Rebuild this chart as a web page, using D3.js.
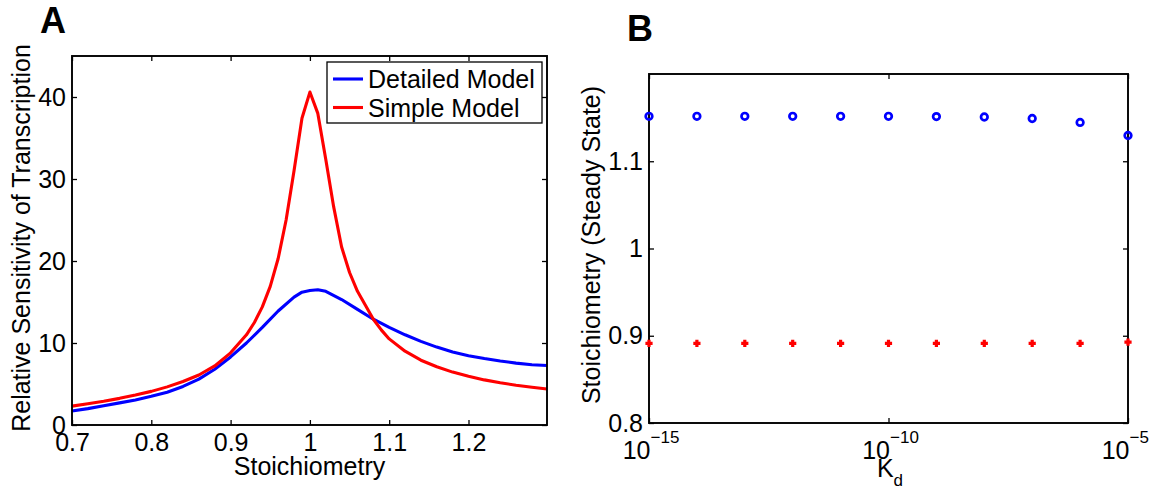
<!DOCTYPE html>
<html>
<head>
<meta charset="utf-8">
<script src="https://cdn.jsdelivr.net/npm/d3@7"></script>
<style>
  body { margin: 0; background: #fff; }
  svg { font-family: "Liberation Sans", Arial, Helvetica, sans-serif; }
</style>
</head>
<body>
<script>
// Panel A data
const simpleX = [0.70, 0.72, 0.74, 0.76, 0.78, 0.80, 0.82, 0.84, 0.86, 0.88, 0.90, 0.92, 0.93, 0.94, 0.95, 0.96, 0.97, 0.98, 0.99, 1.00,
                 1.01, 1.02, 1.03, 1.04, 1.05, 1.06, 1.07, 1.08, 1.09, 1.10, 1.12, 1.14, 1.16, 1.18, 1.20, 1.22, 1.24, 1.26, 1.28, 1.299];
const simpleY = [2.3, 2.6, 2.9, 3.25, 3.65, 4.1, 4.65, 5.3, 6.1, 7.2, 8.8, 11.0, 12.5, 14.4, 16.9, 20.3, 25.0, 31.0, 37.4, 40.6,
                 38.0, 32.4, 26.6, 21.7, 18.6, 16.3, 14.6, 12.9, 11.6, 10.5, 9.0, 7.9, 7.1, 6.45, 5.95, 5.5, 5.15, 4.85, 4.6, 4.4];
const detailedX = [0.70, 0.72, 0.74, 0.76, 0.78, 0.80, 0.82, 0.84, 0.86, 0.88, 0.90, 0.92, 0.94, 0.96, 0.98, 0.99, 1.00, 1.01, 1.02,
                   1.04, 1.06, 1.08, 1.10, 1.12, 1.14, 1.16, 1.18, 1.20, 1.22, 1.24, 1.26, 1.28, 1.299];
const detailedY = [1.7, 2.0, 2.35, 2.7, 3.05, 3.5, 4.0, 4.7, 5.6, 6.8, 8.3, 10.0, 11.9, 13.9, 15.6, 16.2, 16.4, 16.5, 16.3,
                   15.3, 14.1, 12.9, 11.9, 11.0, 10.2, 9.5, 8.9, 8.45, 8.1, 7.8, 7.55, 7.35, 7.25];
const legendNames = ["Detailed Model", "Simple Model"];
const lineColors = ["#0000ff", "#ff0000"];
const xTicksA = [0.7, 0.8, 0.9, 1, 1.1, 1.2];
const yTicksA = [0, 10, 20, 30, 40];

// Panel B data
const kdValues = [1e-15, 1e-14, 1e-13, 1e-12, 1e-11, 1e-10, 1e-9, 1e-8, 1e-7, 1e-6, 1e-5];
const stoichDetailed = [1.1515, 1.1515, 1.1515, 1.1515, 1.1515, 1.1515, 1.1512, 1.1507, 1.149, 1.1445, 1.1295];
const stoichSimple = [0.8912, 0.8912, 0.8912, 0.8912, 0.8912, 0.8912, 0.8912, 0.8912, 0.8912, 0.8912, 0.8927];
const xTicksB = [1e-15, 1e-10, 1e-5];
const yTicksB = [0.8, 0.9, 1, 1.1];

const W = 1157, H = 493;
const svg = d3.select("body").append("svg").attr("width", W).attr("height", H);

const tickLen = 5;
const fontSize = 25;

function frame(g, x, y, w, h) {
  // mirrored inward ticks on top and right, like MATLAB's box on
  g.append("g").attr("transform", `translate(0,${h})`)
    .call(d3.axisBottom(x).tickValues(x.tv).tickSizeInner(-tickLen).tickSizeOuter(0).tickPadding(8).tickFormat(x.fmt))
    .attr("class", "xaxis");
  g.append("g")
    .call(d3.axisTop(x).tickValues(x.tv).tickSizeInner(-tickLen).tickSizeOuter(0).tickFormat(""));
  g.append("g")
    .call(d3.axisLeft(y).tickValues(y.tv).tickSizeInner(-tickLen).tickSizeOuter(0).tickPadding(6).tickFormat(y.fmt))
    .attr("class", "yaxis");
  g.append("g").attr("transform", `translate(${w},0)`)
    .call(d3.axisRight(y).tickValues(y.tv).tickSizeInner(-tickLen).tickSizeOuter(0).tickFormat(""));
  g.selectAll(".domain").remove();
  g.selectAll(".tick line").attr("stroke", "#000").attr("stroke-width", 1.3);
  g.selectAll(".tick text").attr("font-size", fontSize).attr("fill", "#000").attr("font-family", null);
  g.append("rect").attr("width", w).attr("height", h)
    .attr("fill", "none").attr("stroke", "#000").attr("stroke-width", 1.9);
}

// ---------- Panel A ----------
const A = { left: 72, top: 56, right: 547, bottom: 425 };
const xA = d3.scaleLinear().domain([0.7, 1.299]).range([0, A.right - A.left]);
const yA = d3.scaleLinear().domain([0, 45]).range([A.bottom - A.top, 0]);
xA.tv = xTicksA; xA.fmt = d => String(d);
yA.tv = yTicksA; yA.fmt = d => String(d);

const gA = svg.append("g").attr("transform", `translate(${A.left},${A.top})`);

const lineA = d3.line().x(d => xA(d[0])).y(d => yA(d[1]));
const seriesA = [
  d3.zip(detailedX, detailedY),
  d3.zip(simpleX, simpleY)
];
gA.selectAll("path.curve").data(seriesA).enter().append("path").attr("class", "curve")
  .attr("d", lineA)
  .attr("fill", "none")
  .attr("stroke", (d, i) => lineColors[i])
  .attr("stroke-width", 3.1)
  .attr("stroke-linejoin", "round");

frame(gA, xA, yA, A.right - A.left, A.bottom - A.top);

// legend
const leg = gA.append("g").attr("transform", `translate(${327 - A.left},${62 - A.top})`);
leg.append("rect").attr("width", 215).attr("height", 61)
  .attr("fill", "#fff").attr("stroke", "#000").attr("stroke-width", 1.3);
legendNames.forEach((name, i) => {
  const cy = 17 + i * 28.5;
  leg.append("line").attr("x1", 6).attr("x2", 36).attr("y1", cy).attr("y2", cy)
    .attr("stroke", lineColors[i]).attr("stroke-width", 3.1);
  leg.append("text").attr("x", 41).attr("y", cy + 9).attr("font-size", fontSize).text(name);
});

svg.append("text").attr("x", (A.left + A.right) / 2).attr("y", 475)
  .attr("text-anchor", "middle").attr("font-size", fontSize).text("Stoichiometry");
svg.append("text").attr("transform", `translate(30,238) rotate(-90)`)
  .attr("text-anchor", "middle").attr("font-size", fontSize).text("Relative Sensitivity of Transcription");
svg.append("text").attr("x", 40).attr("y", 33).attr("font-size", 36).attr("font-weight", "bold").text("A");

// ---------- Panel B ----------
const B = { left: 649, top: 74, right: 1128, bottom: 423 };
const xB = d3.scaleLog().domain([1e-15, 1e-5]).range([0, B.right - B.left]);
const yB = d3.scaleLinear().domain([0.8, 1.2]).range([B.bottom - B.top, 0]);
xB.tv = xTicksB; xB.fmt = "";
yB.tv = yTicksB; yB.fmt = d => String(d);

const gB = svg.append("g").attr("transform", `translate(${B.left},${B.top})`);
frame(gB, xB, yB, B.right - B.left, B.bottom - B.top);

// tick labels 10^n with superscript, "10" ends at the tick
gB.selectAll(".xaxis .tick").each(function(d) {
  const t = d3.select(this);
  t.select("text").remove();
  t.append("text").attr("x", 1).attr("y", 36).attr("text-anchor", "end")
    .attr("font-size", fontSize).attr("fill", "#000").text("10");
  t.append("text").attr("x", 1).attr("y", 20).attr("text-anchor", "start")
    .attr("font-size", 17).attr("fill", "#000").text("\u2212" + Math.round(-Math.log10(d)));
});

const ptsDet = d3.zip(kdValues, stoichDetailed);
const ptsSim = d3.zip(kdValues, stoichSimple);

gB.selectAll("circle.det").data(ptsDet).enter().append("circle").attr("class", "det")
  .attr("cx", d => xB(d[0])).attr("cy", d => yB(d[1])).attr("r", 3.3)
  .attr("fill", "none").attr("stroke", "#0000ff").attr("stroke-width", 2.7);

gB.selectAll("path.sim").data(ptsSim).enter().append("path").attr("class", "sim")
  .attr("transform", d => `translate(${xB(d[0])},${yB(d[1])})`)
  .attr("d", "M-3.6,0H3.6M0,-3.6V3.6")
  .attr("stroke", "#ff0000").attr("stroke-width", 3.2);

const kdLabel = svg.append("text").attr("x", 890).attr("y", 477)
  .attr("text-anchor", "middle").attr("font-size", fontSize);
kdLabel.append("tspan").text("K");
kdLabel.append("tspan").attr("font-size", 17).attr("dy", 9).text("d");

svg.append("text").attr("transform", `translate(600,245) rotate(-90)`)
  .attr("text-anchor", "middle").attr("font-size", fontSize).text("Stoichiometry (Steady State)");
svg.append("text").attr("x", 627).attr("y", 41).attr("font-size", 36).attr("font-weight", "bold").text("B");
</script>
</body>
</html>
